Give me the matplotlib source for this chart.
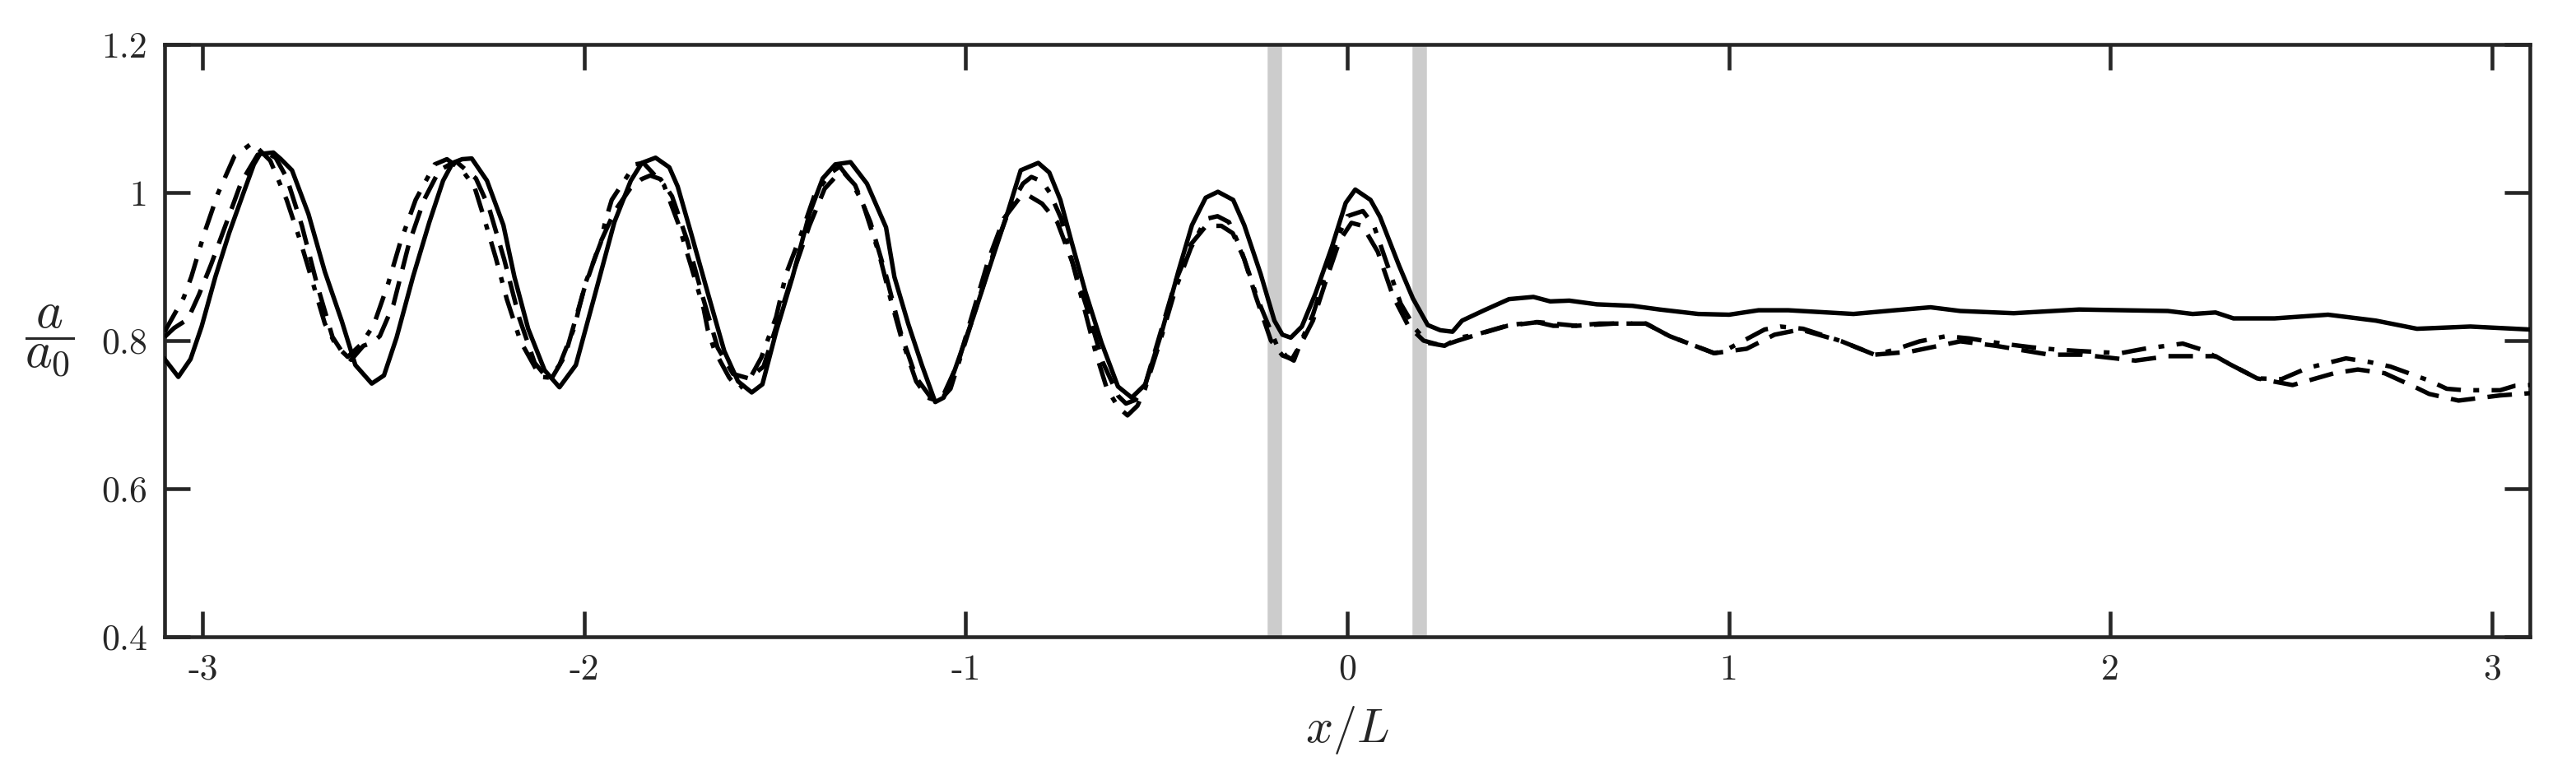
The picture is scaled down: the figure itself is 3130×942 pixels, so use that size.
import matplotlib.pyplot as plt

plt.rcParams['mathtext.fontset'] = 'cm'

# solid line
x_solid = [-3.100, -3.064, -3.032, -3.003, -2.967, -2.931, -2.895, -2.866, -2.850, -2.815, -2.795, -2.766,
           -2.723, -2.680, -2.636, -2.600, -2.557, -2.525, -2.492, -2.449, -2.406, -2.370, -2.345, -2.320,
           -2.295, -2.255, -2.212, -2.183, -2.147, -2.104, -2.065, -2.022, -1.971, -1.921, -1.878, -1.849,
           -1.813, -1.777, -1.755, -1.720, -1.676, -1.633, -1.597, -1.561, -1.533, -1.497, -1.454, -1.410,
           -1.375, -1.342, -1.302, -1.259, -1.209, -1.187, -1.151, -1.115, -1.080, -1.058, -1.029, -0.980,
           -0.932, -0.889, -0.856, -0.810, -0.781, -0.752, -0.723, -0.687, -0.644, -0.601, -0.565, -0.529,
           -0.486, -0.443, -0.407, -0.371, -0.339, -0.299, -0.270, -0.227, -0.191, -0.170, -0.148, -0.119,
           -0.083, -0.040, -0.004, 0.021, 0.061, 0.086, 0.136, 0.172, 0.211, 0.244, 0.276, 0.301, 0.359,
           0.424, 0.488, 0.532, 0.582, 0.654, 0.747, 0.819, 0.920, 1.001, 1.078, 1.156, 1.327, 1.436, 1.529,
           1.607, 1.747, 1.918, 2.151, 2.216, 2.276, 2.323, 2.431, 2.571, 2.696, 2.804, 2.944, 3.100]
y_solid = [0.775, 0.751, 0.775, 0.819, 0.886, 0.945, 0.997, 1.038, 1.052, 1.054, 1.045, 1.030,
           0.971, 0.893, 0.827, 0.767, 0.742, 0.753, 0.804, 0.886, 0.960, 1.016, 1.040, 1.045,
           1.046, 1.016, 0.956, 0.886, 0.816, 0.760, 0.737, 0.767, 0.864, 0.960, 1.016, 1.040,
           1.047, 1.034, 1.008, 0.945, 0.864, 0.786, 0.745, 0.730, 0.741, 0.812, 0.886, 0.971,
           1.019, 1.038, 1.041, 1.012, 0.953, 0.886, 0.823, 0.767, 0.717, 0.723, 0.760, 0.832,
           0.908, 0.975, 1.030, 1.040, 1.027, 0.990, 0.934, 0.867, 0.797, 0.738, 0.723, 0.741,
           0.812, 0.893, 0.956, 0.993, 1.001, 0.990, 0.956, 0.890, 0.827, 0.808, 0.804, 0.819,
           0.864, 0.927, 0.986, 1.004, 0.990, 0.967, 0.901, 0.857, 0.821, 0.814, 0.812, 0.827, 0.841,
           0.856, 0.859, 0.853, 0.854, 0.849, 0.847, 0.842, 0.836, 0.835, 0.841, 0.841, 0.836, 0.841, 0.845,
           0.840, 0.837, 0.842, 0.840, 0.836, 0.838, 0.830, 0.830, 0.835, 0.827, 0.816, 0.819, 0.815]

# dashed line
x_dash = [-3.100, -3.075, -3.039, -3.010, -2.978, -2.928, -2.899, -2.856, -2.831, -2.809, -2.780, -2.740,
          -2.700, -2.660, -2.635, -2.611, -2.579, -2.557, -2.536, -2.500, -2.460, -2.420, -2.380, -2.345,
          -2.334, -2.284, -2.250, -2.210, -2.170, -2.130, -2.090, -2.050, -2.000, -1.960, -1.920, -1.880,
          -1.850, -1.827, -1.800, -1.770, -1.730, -1.690, -1.650, -1.610, -1.569, -1.530, -1.490, -1.450,
          -1.410, -1.370, -1.340, -1.320, -1.290, -1.250, -1.210, -1.170, -1.130, -1.090, -1.060, -1.020,
          -0.980, -0.940, -0.900, -0.860, -0.839, -0.800, -0.760, -0.720, -0.680, -0.640, -0.600, -0.580,
          -0.555, -0.530, -0.490, -0.450, -0.410, -0.370, -0.330, -0.300, -0.270, -0.240, -0.200, -0.170,
          -0.145, -0.120, -0.090, -0.050, -0.020, 0.011, 0.040, 0.080, 0.120, 0.160, 0.200, 0.250, 0.290,
          0.340, 0.420, 0.500, 0.600, 0.700, 0.783, 0.845, 0.962, 1.047, 1.120, 1.188, 1.296, 1.382, 1.475,
          1.607, 1.700, 1.840, 1.926, 2.066, 2.152, 2.276, 2.300, 2.385, 2.478, 2.587, 2.649, 2.719, 2.804,
          2.836, 2.913, 3.022, 3.100]
y_dash = [0.805, 0.817, 0.829, 0.862, 0.903, 0.973, 1.014, 1.051, 1.053, 1.047, 1.020, 0.955,
          0.875, 0.805, 0.785, 0.774, 0.793, 0.797, 0.806, 0.849, 0.930, 0.990, 1.030, 1.040,
          1.041, 1.019, 0.980, 0.910, 0.830, 0.770, 0.745, 0.780, 0.870, 0.930, 0.975, 1.005,
          1.018, 1.023, 1.018, 0.995, 0.935, 0.860, 0.790, 0.755, 0.749, 0.765, 0.830, 0.895,
          0.955, 1.005, 1.022, 1.027, 1.010, 0.960, 0.890, 0.810, 0.750, 0.722, 0.725, 0.770,
          0.840, 0.910, 0.965, 0.992, 0.997, 0.985, 0.960, 0.905, 0.840, 0.770, 0.725, 0.715,
          0.720, 0.740, 0.810, 0.880, 0.930, 0.955, 0.955, 0.945, 0.910, 0.860, 0.800, 0.780,
          0.775, 0.797, 0.827, 0.890, 0.935, 0.959, 0.955, 0.920, 0.860, 0.820, 0.800, 0.793, 0.800,
          0.808, 0.820, 0.825, 0.820, 0.823, 0.823, 0.806, 0.783, 0.789, 0.808, 0.815, 0.799, 0.781, 0.785,
          0.799, 0.793, 0.781, 0.781, 0.773, 0.779, 0.779, 0.772, 0.749, 0.740, 0.756, 0.761, 0.756, 0.736,
          0.728, 0.719, 0.726, 0.729]

# dash-dot line
x_dashdot = [-3.100, -3.050, -3.030, -2.996, -2.960, -2.917, -2.870, -2.823, -2.780, -2.744, -2.712, -2.680,
             -2.650, -2.620, -2.585, -2.552, -2.514, -2.482, -2.442, -2.392, -2.360, -2.320, -2.288, -2.264,
             -2.232, -2.203, -2.167, -2.115, -2.090, -2.065, -2.025, -2.015, -1.996, -1.957, -1.945, -1.928,
             -1.867, -1.845, -1.827, -1.791, -1.752, -1.735, -1.719, -1.687, -1.676, -1.658, -1.620, -1.595,
             -1.570, -1.536, -1.497, -1.471, -1.432, -1.396, -1.353, -1.330, -1.300, -1.270, -1.227, -1.198,
             -1.169, -1.130, -1.100, -1.070, -1.040, -1.000, -0.960, -0.920, -0.880, -0.850, -0.828, -0.800,
             -0.780, -0.750, -0.720, -0.690, -0.660, -0.630, -0.600, -0.576, -0.550, -0.530, -0.490, -0.450,
             -0.410, -0.380, -0.365, -0.340, -0.310, -0.280, -0.250, -0.238, -0.210, -0.184, -0.160, -0.140,
             -0.120, -0.090, -0.050, -0.020, 0.000, 0.041, 0.070, 0.100, 0.140, 0.180, 0.211, 0.255, 0.294,
             0.337, 0.424, 0.496, 0.540, 0.590, 0.661, 0.747, 0.783, 0.845, 0.962, 0.988, 1.094, 1.135, 1.195,
             1.296, 1.382, 1.430, 1.500, 1.570, 1.630, 1.716, 1.794, 1.856, 1.918, 2.027, 2.089, 2.190, 2.245,
             2.284, 2.385, 2.449, 2.517, 2.618, 2.680, 2.734, 2.836, 2.882, 2.929, 3.022, 3.061, 3.100]
y_dashdot = [0.812, 0.858, 0.886, 0.945, 0.999, 1.049, 1.067, 1.043, 0.990, 0.934, 0.879, 0.823,
             0.793, 0.778, 0.795, 0.821, 0.877, 0.933, 0.990, 1.038, 1.045, 1.030, 1.008, 0.968,
             0.912, 0.856, 0.799, 0.751, 0.750, 0.767, 0.819, 0.841, 0.879, 0.932, 0.961, 0.990,
             1.038, 1.040, 1.030, 1.010, 0.956, 0.926, 0.899, 0.843, 0.814, 0.786, 0.750, 0.735,
             0.745, 0.777, 0.832, 0.890, 0.943, 0.997, 1.027, 1.035, 1.015, 0.986, 0.917, 0.858,
             0.804, 0.745, 0.723, 0.718, 0.735, 0.800, 0.865, 0.930, 0.985, 1.012, 1.021, 1.015,
             1.000, 0.965, 0.905, 0.845, 0.785, 0.735, 0.710, 0.699, 0.712, 0.735, 0.800, 0.870,
             0.925, 0.955, 0.965, 0.968, 0.960, 0.925, 0.880, 0.860, 0.825, 0.793, 0.779, 0.773,
             0.800, 0.835, 0.900, 0.945, 0.968, 0.975, 0.955, 0.910, 0.850, 0.815, 0.797, 0.793, 0.804,
             0.808, 0.821, 0.825, 0.820, 0.820, 0.823, 0.823, 0.823, 0.806, 0.783, 0.786, 0.815, 0.819, 0.816,
             0.799, 0.781, 0.787, 0.799, 0.806, 0.803, 0.796, 0.791, 0.788, 0.786, 0.783, 0.789, 0.796, 0.787,
             0.776, 0.749, 0.748, 0.763, 0.776, 0.771, 0.765, 0.746, 0.735, 0.733, 0.733, 0.739, 0.740]

band_x = [-0.19, 0.19]
x_ticks = [-3, -2, -1, 0, 1, 2, 3]
x_ticklabels = ['-3', '-2', '-1', '0', '1', '2', '3']
y_ticks = [0.4, 0.6, 0.8, 1.0, 1.2]
y_ticklabels = ['0.4', '0.6', '0.8', '1', '1.2']

fig = plt.figure(figsize=(3130 / 300, 942 / 300), dpi=300)
ax = fig.add_axes([0.0639, 0.1783, 0.9182, 0.7644])

for bx in band_x:
    ax.axvline(bx, color='#cccccc', lw=4.2, zorder=1)

lw = 1.3
ax.plot(x_solid, y_solid, color='k', lw=lw, zorder=3)
ax.plot(x_dash, y_dash, color='k', lw=lw, linestyle=(0, (5.5, 2.8)), zorder=3)
ax.plot(x_dashdot, y_dashdot, color='k', lw=lw, linestyle=(0, (5.5, 2.8, 1.3, 2.8)), zorder=3)

ax.set_xlim(-3.1, 3.1)
ax.set_ylim(0.4, 1.2)
ax.set_xticks(x_ticks)
ax.set_xticklabels(x_ticklabels, fontfamily='cmr10', fontsize=10.5)
ax.set_yticks(y_ticks)
ax.set_yticklabels(y_ticklabels, fontfamily='cmr10', fontsize=10.5)
ax.tick_params(direction='in', length=7.5, width=1.1, top=True, right=True,
               color='#262626', labelcolor='#262626', pad=5)
for sp in ax.spines.values():
    sp.set_linewidth(1.1)
    sp.set_color('#262626')

ax.set_xlabel(r'$x/L$', fontsize=14, color='#262626', labelpad=5)
ax.set_ylabel(r'$\dfrac{a}{a_0}$', fontsize=15, rotation=0, color='#262626', va='center', ha='center')
ax.yaxis.set_label_coords(-0.0487, 0.5)

fig.savefig('out.png', dpi=300)
